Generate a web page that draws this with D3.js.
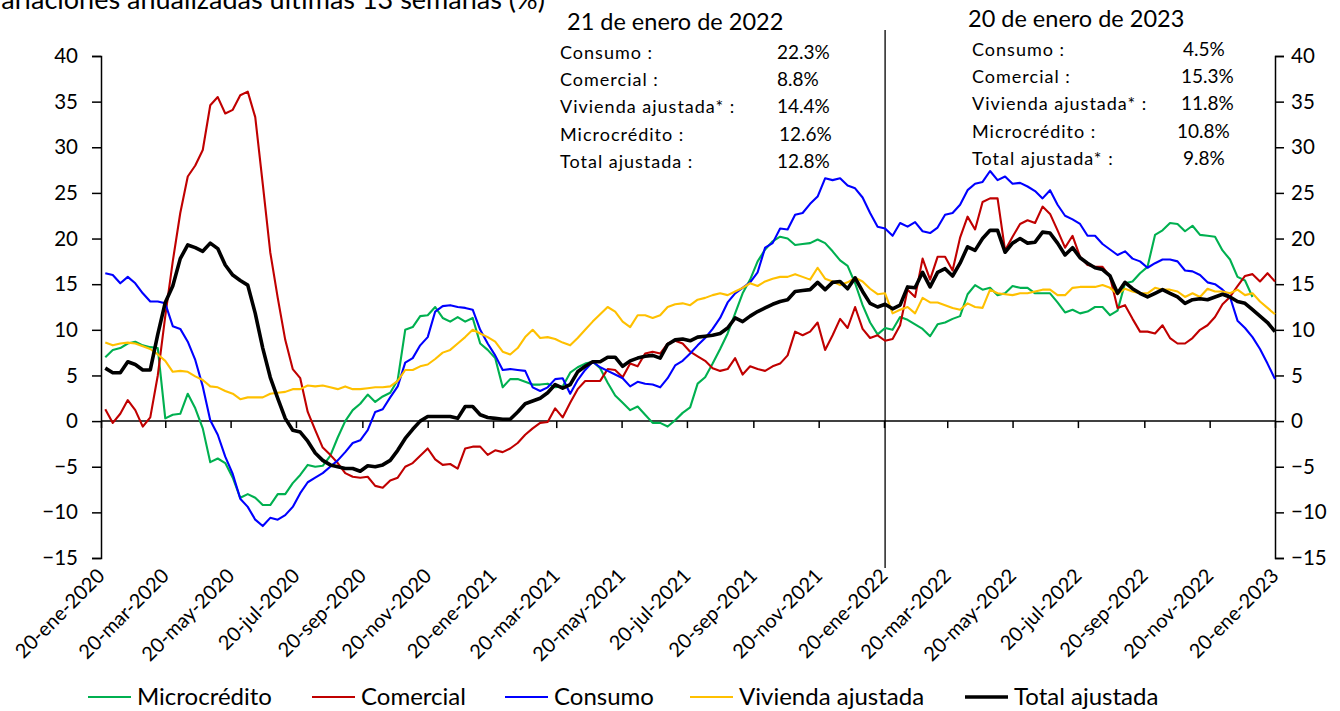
<!DOCTYPE html>
<html><head><meta charset="utf-8">
<script src="https://cdn.jsdelivr.net/npm/d3@7"></script>
<style>
html,body{margin:0;padding:0;background:#fff;}
svg{display:block;font-family:Lato,"Open Sans",sans-serif;}
</style></head>
<body>
<svg id="chart" width="1340" height="711"></svg>
<script>
// ---------- DATA ----------
const firstWeek = "2020-01-24"; // weekly observations (Fridays) up to 2023-01-20
const tickDates = ["2020-01-20","2020-03-20","2020-05-20","2020-07-20","2020-09-20","2020-11-20",
  "2021-01-20","2021-03-20","2021-05-20","2021-07-20","2021-09-20","2021-11-20",
  "2022-01-20","2022-03-20","2022-05-20","2022-07-20","2022-09-20","2022-11-20","2023-01-20"];
const tickLabels = ["20-ene-2020","20-mar-2020","20-may-2020","20-jul-2020","20-sep-2020","20-nov-2020",
  "20-ene-2021","20-mar-2021","20-may-2021","20-jul-2021","20-sep-2021","20-nov-2021",
  "20-ene-2022","20-mar-2022","20-may-2022","20-jul-2022","20-sep-2022","20-nov-2022","20-ene-2023"];
const yTicks = [-15,-10,-5,0,5,10,15,20,25,30,35,40];

const microcredito = [7.0,7.8,8.0,8.5,8.7,8.3,8.1,8.0,0.3,0.7,0.8,3.0,1.4,-0.8,-4.5,-4.1,-4.6,-6.2,-8.4,-8.0,
  -8.4,-9.2,-9.2,-8.0,-8.0,-6.8,-5.9,-4.8,-5.0,-4.9,-3.8,-1.8,0.0,1.2,1.9,2.9,2.1,2.7,3.1,4.5,
  10.0,10.3,11.5,11.6,12.5,11.3,10.9,11.4,10.9,11.3,8.5,7.8,6.9,3.7,4.6,4.6,4.3,4.0,4.0,4.1,
  3.7,3.8,5.3,5.9,6.3,6.5,5.8,4.2,2.8,2.0,1.2,1.6,0.7,-0.2,-0.2,-0.6,0.1,0.9,1.5,4.1,
  4.8,6.3,7.9,9.6,11.8,14.0,15.5,17.5,18.8,19.7,20.2,20.0,19.3,19.4,19.5,19.9,19.5,18.6,17.6,17.0,
  15.1,12.7,10.8,9.5,10.2,10.0,11.4,11.1,10.6,10.1,9.3,10.6,10.8,11.2,11.5,13.9,14.9,14.4,14.6,13.8,
  14.0,14.8,14.6,14.6,14.0,14.0,14.0,13.0,11.9,12.2,11.8,12.0,12.5,12.5,11.6,12.1,15.1,15.3,16.2,16.9,
  20.4,20.9,21.7,21.6,20.8,21.4,20.4,20.3,20.2,18.7,17.7,15.8,15.4,13.6,null,null,null];

const comercial = [1.3,-0.2,0.8,2.3,1.2,-0.6,0.4,5.0,11.5,17.5,22.8,26.8,28.0,29.7,34.6,35.5,33.7,34.1,35.7,36.1,
  33.3,26.0,18.5,13.5,8.9,5.7,4.7,1.0,-1.0,-2.9,-3.7,-4.6,-5.7,-6.1,-6.2,-6.1,-7.1,-7.3,-6.5,-6.2,
  -5.0,-4.6,-3.8,-3.0,-4.2,-4.8,-4.7,-5.2,-3.0,-2.8,-2.8,-3.7,-3.2,-3.4,-3.0,-2.4,-1.5,-0.8,-0.2,-0.1,
  1.4,0.4,2.0,3.5,4.4,4.4,4.4,5.7,5.6,4.8,6.3,6.0,7.4,7.6,7.4,8.5,8.8,8.5,7.6,7.1,
  6.6,5.8,5.5,5.7,6.9,5.1,6.0,5.7,5.5,6.0,6.3,7.2,9.8,9.4,9.8,10.8,7.8,9.4,11.2,10.2,
  12.5,10.1,9.1,9.4,8.8,9.0,10.5,14.4,13.6,17.8,15.5,18.0,18.0,16.5,20.1,22.4,21.0,24.0,24.4,24.4,
  18.7,20.2,21.6,22.0,21.7,23.5,22.7,20.9,19.0,20.3,18.0,17.1,16.9,16.9,15.8,12.4,12.7,11.2,9.8,9.8,
  9.6,10.5,9.1,8.5,8.5,9.1,10.0,10.5,11.4,12.8,13.6,14.8,15.9,16.1,15.3,16.2,15.3];

const consumo = [16.2,16.0,15.1,15.8,15.1,14.0,13.1,13.1,12.9,10.4,10.1,8.7,6.7,3.8,0.1,-1.5,-3.9,-5.8,-8.5,-9.4,
  -10.8,-11.5,-10.6,-10.8,-10.3,-9.4,-7.9,-6.7,-6.2,-5.7,-5.0,-4.3,-3.4,-2.4,-2.1,-1.0,1.0,1.3,2.6,3.8,
  6.4,6.9,8.3,9.2,12.0,12.6,12.7,12.5,12.4,12.2,10.0,8.5,7.2,5.6,5.7,5.6,5.5,3.7,3.3,3.7,
  4.6,4.7,3.0,4.5,5.6,6.5,5.9,5.5,5.1,4.7,3.8,4.3,4.1,4.0,3.7,4.7,6.1,6.6,7.4,8.3,
  9.1,10.1,11.3,13.0,14.0,14.6,15.2,16.3,19.0,19.5,21.1,21.0,22.6,22.8,23.8,24.6,26.6,26.4,26.6,25.8,
  25.5,24.5,22.8,21.3,21.1,20.3,21.7,21.3,21.8,20.8,20.6,21.2,22.6,22.8,23.7,25.3,26.0,26.2,27.4,26.4,
  26.8,26.0,26.1,25.7,25.2,24.4,25.3,23.7,22.5,22.1,21.6,20.3,20.3,19.4,18.8,18.2,18.6,17.8,17.5,16.8,
  17.3,17.7,17.7,17.5,16.5,16.4,16.0,15.2,15.0,14.4,13.6,11.0,10.2,9.2,7.9,6.3,4.6];

const vivienda = [8.6,8.3,8.5,8.6,8.5,8.2,7.9,7.3,6.6,5.4,5.5,5.4,4.9,4.5,3.8,3.7,3.3,3.0,2.4,2.6,
  2.6,2.6,3.0,3.1,3.2,3.5,3.5,3.9,3.8,3.9,3.7,3.5,3.8,3.5,3.5,3.6,3.7,3.7,3.8,4.4,
  5.6,5.6,6.0,6.2,6.8,7.5,7.8,8.5,9.2,10.0,9.6,9.2,8.7,7.6,7.3,8.0,9.2,10.0,9.1,9.2,
  9.0,8.6,8.3,9.1,10.0,10.9,11.7,12.5,12.0,10.9,10.3,11.6,11.6,11.3,11.6,12.5,12.8,12.9,12.7,13.3,
  13.5,13.8,14.0,13.8,14.2,14.6,15.1,14.8,15.3,15.6,15.8,15.8,16.1,15.8,15.5,16.8,15.6,15.3,14.9,15.2,
  15.7,15.3,14.5,13.9,14.0,11.8,12.2,12.5,11.8,13.5,13.0,13.0,12.7,12.4,12.2,12.9,12.5,12.4,14.4,14.0,
  13.9,13.8,14.0,14.0,14.2,14.4,14.4,13.8,13.8,14.6,14.7,14.7,14.7,14.9,14.6,13.9,14.5,14.2,14.0,14.0,
  14.6,14.4,14.4,14.2,13.6,14.0,13.6,14.5,14.2,14.2,14.0,14.4,13.8,14.0,13.1,12.4,11.7];

const total = [5.8,5.3,5.3,6.5,6.2,5.6,5.6,9.5,13.0,14.8,17.8,19.3,19.0,18.6,19.5,18.9,17.1,16.0,15.4,14.9,
  11.8,8.0,4.8,2.5,0.3,-1.0,-1.2,-2.2,-3.5,-4.3,-4.8,-5.0,-5.2,-5.2,-5.5,-4.9,-5.0,-4.8,-4.3,-3.2,
  -1.9,-0.9,0.0,0.5,0.5,0.5,0.5,0.3,1.6,1.6,0.7,0.4,0.3,0.2,0.2,1.0,1.9,2.2,2.5,3.1,
  4.0,3.6,4.0,5.4,6.0,6.5,6.5,7.0,7.0,6.0,6.6,6.9,7.1,7.2,6.9,8.4,8.9,9.0,8.8,9.2,
  9.3,9.4,9.6,10.2,11.3,10.9,11.5,12.0,12.4,12.8,13.1,13.3,14.2,14.3,14.4,15.2,14.4,15.2,15.3,14.5,
  15.7,14.2,12.9,12.5,12.8,12.3,12.7,14.7,14.6,16.3,14.7,16.3,16.7,15.9,17.3,19.1,18.7,20.0,20.9,20.9,
  18.5,19.5,20.0,19.5,19.6,20.7,20.6,19.5,18.2,19.0,17.9,17.3,16.8,16.6,15.9,14.0,15.2,14.5,14.0,13.6,
  14.0,14.4,14.0,13.6,12.9,13.3,13.4,13.3,13.6,13.9,13.6,13.1,12.9,12.2,11.5,10.8,9.8];

const seriesNames = ["Microcrédito","Comercial","Consumo","Vivienda ajustada","Total ajustada"];
const seriesColors = ["#00B050","#C00000","#0000FF","#FFC000","#000000"];

const markerDate = "2022-01-21";
const annot1Title = "21 de enero de 2022";
const annot1Labels = ["Consumo :","Comercial :","Vivienda ajustada* :","Microcrédito :","Total ajustada :"];
const annot1Values = ["22.3%","8.8%","14.4%","12.6%","12.8%"];
const annot2Title = "20 de enero de 2023";
const annot2Labels = ["Consumo :","Comercial :","Vivienda ajustada* :","Microcrédito :","Total ajustada* :"];
const annot2Values = ["4.5%","15.3%","11.8%","10.8%","9.8%"];
const chartTitle = "Variaciones anualizadas últimas 13 semanas (%)";

// ---------- CHART ----------
const svg = d3.select("#chart");
const parse = d3.utcParse("%Y-%m-%d");
const t0 = parse(firstWeek);
const dates = total.map((_, i) => d3.utcDay.offset(t0, 7 * i));
const allSeries = [microcredito, comercial, consumo, vivienda, total];

const x = d3.scaleUtc().domain([parse(tickDates[0]), parse(tickDates[tickDates.length - 1])]).range([101, 1275]);
const y = d3.scaleLinear().domain([-15, 40]).range([558, 56]);

// title (cut off at top like the original)
svg.append("text").attr("x", -15).attr("y", 9).attr("font-size", 27).attr("fill", "#000").text(chartTitle);

// y axes
const yl = svg.append("g").attr("transform", "translate(101,0)")
  .call(d3.axisLeft(y).tickValues(yTicks).tickSize(9).tickPadding(14).tickFormat(d3.format("d")));
const yr = svg.append("g").attr("transform", "translate(1275,0)")
  .call(d3.axisRight(y).tickValues(yTicks).tickSize(9).tickPadding(7).tickFormat(d3.format("d")));
[yl, yr].forEach(g => {
  g.select(".domain").attr("stroke", "#000").attr("stroke-width", 1.5);
  g.selectAll(".tick line").attr("stroke", "#000").attr("stroke-width", 1.5);
  g.selectAll(".tick text").attr("font-size", 20.5).attr("fill", "#000").attr("font-family", "Lato, sans-serif");
});

// x axis at zero
const xa = svg.append("g").attr("transform", `translate(0,${y(0)})`)
  .call(d3.axisBottom(x).tickValues(tickDates.map(parse)).tickSize(7).tickFormat(""));
xa.select(".domain").attr("stroke", "#000").attr("stroke-width", 1.5).attr("d", `M101,0H1275`);
xa.selectAll(".tick line").attr("stroke", "#000").attr("stroke-width", 1.5);

// x tick labels at bottom, rotated
svg.append("g").selectAll("text").data(tickDates).join("text")
  .attr("transform", d => `translate(${x(parse(d)) + 5},577) rotate(-45)`)
  .attr("text-anchor", "end").attr("font-size", 20).attr("fill", "#000")
  .text((d, i) => tickLabels[i]);

// vertical marker
svg.append("line").attr("x1", x(parse(markerDate))).attr("x2", x(parse(markerDate)))
  .attr("y1", 30).attr("y2", 568).attr("stroke", "#000").attr("stroke-width", 1.3);

// series lines
const line = d3.line().defined(d => d[1] !== null).x(d => x(d[0])).y(d => y(d[1]));
[0, 1, 2, 3, 4].forEach(k => {
  svg.append("path").datum(allSeries[k].map((v, i) => [dates[i], v]))
    .attr("fill", "none").attr("stroke", seriesColors[k])
    .attr("stroke-width", k === 4 ? 3.6 : 2.1).attr("stroke-linejoin", "round")
    .attr("d", line);
});

// annotations
function annot(titleX, labelX, titleY, title, labels, values, vx) {
  svg.append("text").attr("x", titleX).attr("y", titleY).attr("font-size", 23.5).attr("fill", "#000").text(title);
  labels.forEach((l, i) => {
    svg.append("text").attr("x", labelX).attr("y", titleY + 29 + i * 27.2).attr("font-size", 18)
      .attr("letter-spacing", 1.0).attr("fill", "#000").text(l);
    svg.append("text").attr("x", vx[i]).attr("y", titleY + 29 + i * 27.2).attr("font-size", 19)
      .attr("fill", "#000").text(values[i]);
  });
}
annot(567, 560, 30, annot1Title, annot1Labels, annot1Values, [777, 777, 777, 779, 777]);
annot(968, 972, 27, annot2Title, annot2Labels, annot2Values, [1183, 1181, 1181, 1177, 1183]);

// legend
const legendX = [88, 312, 505, 690, 965];
const lg = svg.append("g");
seriesNames.forEach((n, k) => {
  lg.append("line").attr("x1", legendX[k]).attr("x2", legendX[k] + 43).attr("y1", 697).attr("y2", 697)
    .attr("stroke", seriesColors[k]).attr("stroke-width", k === 4 ? 3.6 : 2.1);
  lg.append("text").attr("x", legendX[k] + 49).attr("y", 705).attr("font-size", 24).attr("fill", "#000").text(n);
});
</script>
</body></html>
